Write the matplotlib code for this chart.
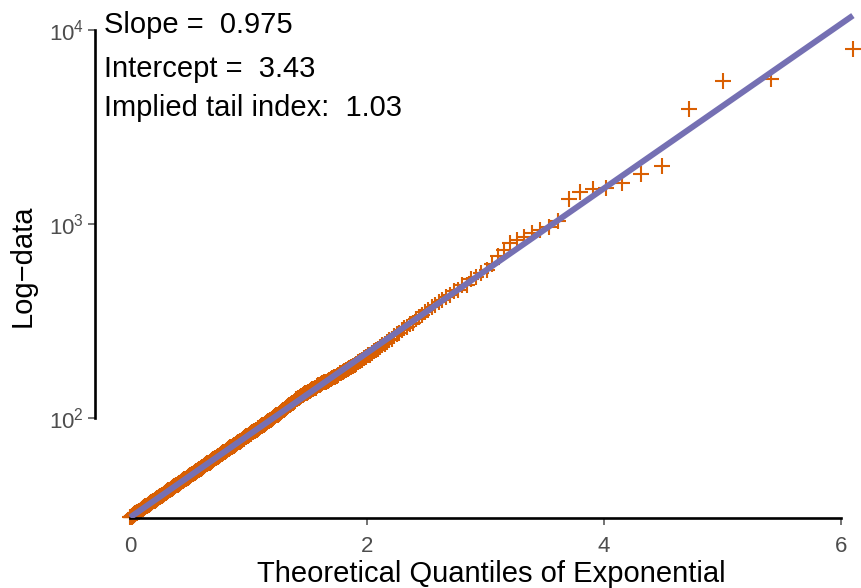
import numpy as np
import matplotlib
matplotlib.use("Agg")
import matplotlib.pyplot as plt
from matplotlib.ticker import FixedLocator, NullLocator

plt.rcParams['font.family'] = ['Liberation Sans', 'DejaVu Sans']
plt.rcParams['mathtext.fontset'] = 'custom'
plt.rcParams['mathtext.rm'] = 'Liberation Sans'
plt.rcParams['mathtext.it'] = 'Liberation Sans:italic'
plt.rcParams['mathtext.bf'] = 'Liberation Sans:bold'

# sorted log-data values (natural log), smallest first
log_data = [
    3.43,3.43,3.44,3.44,3.44, 3.44,3.45,3.45,3.45,3.45, 3.45,3.46,3.46,3.46,3.46,
    3.47,3.47,3.47,3.47,3.48, 3.48,3.48,3.48,3.48,3.49, 3.49,3.49,3.49,3.50,3.50,
    3.50,3.50,3.51,3.51,3.51, 3.51,3.51,3.52,3.52,3.52, 3.52,3.53,3.53,3.53,3.53,
    3.54,3.54,3.54,3.54,3.55, 3.55,3.55,3.55,3.56,3.56, 3.56,3.56,3.57,3.57,3.57,
    3.57,3.58,3.58,3.58,3.58, 3.59,3.59,3.59,3.59,3.60, 3.60,3.60,3.60,3.61,3.61,
    3.61,3.61,3.62,3.62,3.62, 3.63,3.63,3.63,3.63,3.64, 3.64,3.64,3.64,3.65,3.65,
    3.65,3.66,3.66,3.66,3.66, 3.67,3.67,3.67,3.67,3.68, 3.68,3.68,3.69,3.69,3.69,
    3.70,3.70,3.70,3.70,3.71, 3.71,3.71,3.72,3.72,3.72, 3.72,3.73,3.73,3.73,3.74,
    3.74,3.74,3.75,3.75,3.75, 3.75,3.76,3.76,3.76,3.77, 3.77,3.77,3.78,3.78,3.78,
    3.79,3.79,3.79,3.80,3.80, 3.80,3.80,3.81,3.81,3.81, 3.82,3.82,3.82,3.83,3.83,
    3.83,3.84,3.84,3.84,3.85, 3.85,3.85,3.86,3.86,3.86, 3.87,3.87,3.87,3.88,3.88,
    3.88,3.89,3.89,3.89,3.90, 3.90,3.90,3.91,3.91,3.92, 3.92,3.92,3.93,3.93,3.93,
    3.94,3.94,3.95,3.95,3.95, 3.96,3.96,3.96,3.97,3.97, 3.98,3.98,3.98,3.99,3.99,
    3.99,4.00,4.00,4.01,4.01, 4.01,4.02,4.02,4.03,4.03, 4.03,4.04,4.04,4.05,4.05,
    4.06,4.06,4.06,4.07,4.07, 4.08,4.08,4.08,4.09,4.09, 4.10,4.10,4.11,4.11,4.12,
    4.12,4.12,4.13,4.13,4.14, 4.14,4.15,4.15,4.16,4.16, 4.16,4.17,4.17,4.18,4.18,
    4.19,4.19,4.20,4.20,4.21, 4.21,4.22,4.22,4.23,4.23, 4.24,4.24,4.25,4.25,4.26,
    4.26,4.27,4.27,4.28,4.28, 4.29,4.29,4.30,4.30,4.31, 4.32,4.32,4.33,4.33,4.34,
    4.34,4.35,4.35,4.36,4.36, 4.37,4.38,4.38,4.39,4.39, 4.40,4.41,4.41,4.42,4.42,
    4.43,4.44,4.44,4.45,4.45, 4.46,4.47,4.47,4.48,4.49, 4.49,4.50,4.51,4.51,4.52,
    4.53,4.53,4.54,4.55,4.55, 4.56,4.57,4.57,4.58,4.59, 4.60,4.60,4.61,4.62,4.63,
    4.64,4.64,4.65,4.66,4.67, 4.68,4.69,4.70,4.70,4.71, 4.73,4.74,4.75,4.76,4.76,
    4.78,4.79,4.79,4.80,4.81, 4.83,4.83,4.84,4.85,4.86, 4.87,4.88,4.89,4.90,4.91,
    4.91,4.92,4.93,4.94,4.95, 4.95,4.96,4.97,4.99,5.00, 5.00,5.01,5.02,5.03,5.04,
    5.04,5.05,5.06,5.07,5.08, 5.09,5.10,5.11,5.12,5.14, 5.14,5.15,5.17,5.18,5.19,
    5.20,5.21,5.23,5.24,5.25, 5.27,5.28,5.30,5.32,5.33, 5.35,5.36,5.38,5.40,5.41,
    5.43,5.45,5.47,5.49,5.51, 5.53,5.55,5.58,5.60,5.62, 5.65,5.67,5.69,5.72,5.74,
    5.78,5.81,5.83,5.86,5.89, 5.92,5.95,5.98,6.01,6.04,
    6.07,
    6.11,6.12,6.18,6.18,6.26,6.28,6.33,6.36,6.43,
    6.53,6.60,6.68,6.72,6.75,6.80,6.84,6.87,6.94,7.20,
    7.29,7.32,7.33,7.39,7.50,7.60,8.27,8.60,8.63,8.98,
]

slope = 0.975
intercept = 3.43
tail_index = 1.03

x_ticks = [0, 2, 4, 6]
y_ticks = [1e2, 1e3, 1e4]
y_tick_labels = [r'$10^{2}$', r'$10^{3}$', r'$10^{4}$']

ORANGE = '#d95f02'
PURPLE = '#7570b3'
TICKGRAY = '#4d4d4d'

n = len(log_data)
i = np.arange(1, n + 1)
q = -np.log(1 - i / (n + 1))          # theoretical exponential quantiles
data = np.exp(np.array(log_data))

W, H = 861, 588
fig = plt.figure(figsize=(W / 100, H / 100), dpi=100)
ax_left, ax_right, ax_bottom, ax_top = 95, 861, 518, 0
ax = fig.add_axes([ax_left / W, 1 - ax_bottom / H, (ax_right - ax_left) / W, (ax_bottom - ax_top) / H])

ax.plot(q, data, linestyle='none', marker='+', markersize=11.6, markeredgewidth=1.5,
        color=ORANGE, zorder=2, clip_on=False)
xl = np.array([q.min(), q.max()])
ax.plot(xl, np.exp(intercept + slope * xl), color=PURPLE, linewidth=4.3,
        solid_capstyle='butt', zorder=3)

ax.set_yscale('log')
ax.set_xlim((ax_left - 130) / 118.5, (ax_right - 130) / 118.5)
ylo = 10 ** (2 - (ax_bottom - 418.3) / 194.3)
yhi = 10 ** (2 + (418.3 - ax_top) / 194.3)
ax.set_ylim(ylo, yhi)

for s in ['top', 'right']:
    ax.spines[s].set_visible(False)
ax.spines['left'].set_bounds(1e2, 1e4)
ax.spines['bottom'].set_bounds(0, 6)
for s in ['left', 'bottom']:
    ax.spines[s].set_linewidth(1.9)
    ax.spines[s].set_color('black')

ax.xaxis.set_major_locator(FixedLocator(x_ticks))
ax.set_xticklabels([str(t) for t in x_ticks])
ax.yaxis.set_major_locator(FixedLocator(y_ticks))
ax.yaxis.set_minor_locator(NullLocator())
ax.set_yticklabels(y_tick_labels)
ax.tick_params(axis='both', which='major', direction='out', length=5, width=1.1,
               color=TICKGRAY, labelcolor=TICKGRAY, labelsize=16)
ax.tick_params(axis='x', pad=8)
ax.tick_params(axis='y', pad=3)
ax.patch.set_visible(False)

fig.text(491 / W, 1 - 574 / H, 'Theoretical Quantiles of Exponential', ha='center', va='center',
         fontsize=21, color='black')
fig.text(23 / W, 1 - 266 / H, 'Log\u2212data', ha='center', va='center', rotation=90,
         fontsize=21, color='black')

lines = [f'Slope =  {slope}', f'Intercept =  {intercept}', f'Implied tail index:  {tail_index}']
for txt, base in zip(lines, [33, 77, 116]):
    fig.text(104 / W, 1 - base / H, txt, ha='left', va='baseline', fontsize=21, color='black')

fig.savefig('out.png', dpi=100)
